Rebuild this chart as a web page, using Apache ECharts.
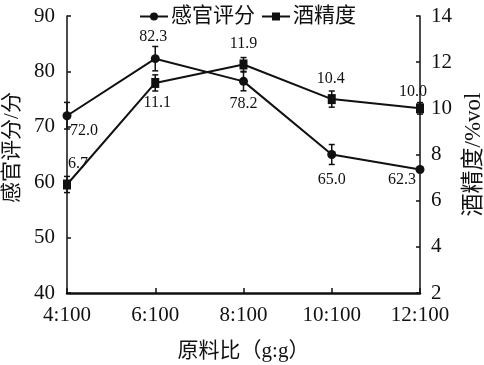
<!DOCTYPE html>
<html>
<head>
<meta charset="utf-8">
<script src="https://cdn.jsdelivr.net/npm/echarts@6/dist/echarts.min.js"></script>
<style>html,body{margin:0;padding:0;background:#fff}#c{width:484px;height:365px}</style>
</head>
<body>
<div id="c"></div>
<script>
const categories = ['4:100', '6:100', '8:100', '10:100', '12:100'];
const sensory = [72.0, 82.3, 78.2, 65.0, 62.3];
const sensoryErr = [2.4, 2.2, 1.7, 1.8, 0.5];
const alcohol = [6.7, 11.1, 11.9, 10.4, 10.0];
const alcoholErr = [0.35, 0.35, 0.3, 0.35, 0.25];
const leftTicks = { min: 40, max: 90, interval: 10 };
const rightTicks = { min: 2, max: 14, interval: 2 };

// label placement (offsets in px from point centre)
const sensoryLabelOffsets = [[17, 15], [-2, -22], [0, 22], [0, 25], [-18, 10]];
const alcoholLabelOffsets = [[11, -21], [2, 20], [0, -21], [-1, -20], [-7, -17]];

const FONT = '"Liberation Serif", "Times New Roman", "Noto Sans CJK SC", serif';
const INK = '#111';

function withLabels(values, offsets) {
  return values.map((v, i) => ({
    value: v,
    label: { position: 'inside', offset: offsets[i] }
  }));
}

function errorSeries(values, errs, yAxisIndex) {
  return {
    type: 'custom',
    yAxisIndex: yAxisIndex,
    silent: true,
    z: 1,
    data: values.map((v, i) => [i, v, errs[i]]),
    renderItem: function (params, api) {
      const x = api.value(0), v = api.value(1), e = api.value(2);
      const hi = api.coord([x, v + e]);
      const lo = api.coord([x, v - e]);
      const w = 3;
      const st = { stroke: INK, lineWidth: 1.5 };
      return {
        type: 'group',
        children: [
          { type: 'line', shape: { x1: hi[0], y1: hi[1], x2: lo[0], y2: lo[1] }, style: st },
          { type: 'line', shape: { x1: hi[0] - w, y1: hi[1], x2: hi[0] + w, y2: hi[1] }, style: st },
          { type: 'line', shape: { x1: lo[0] - w, y1: lo[1], x2: lo[0] + w, y2: lo[1] }, style: st }
        ]
      };
    }
  };
}

const chart = echarts.init(document.getElementById('c'), null, { renderer: 'canvas' });
chart.setOption({
  animation: false,
  backgroundColor: '#fff',
  textStyle: { fontFamily: FONT, color: INK },
  grid: { left: 67, right: 64, top: 16, bottom: 72, containLabel: false, outerBoundsMode: 'none' },
  legend: {
    left: 134, top: 1,
    itemWidth: 28, itemHeight: 10, itemGap: 6,
    textStyle: { fontFamily: FONT, fontSize: 21, color: INK, padding: [0, 0, 0, -2] },
    data: ['感官评分', '酒精度']
  },
  xAxis: {
    type: 'category',
    data: categories,
    boundaryGap: false,
    name: '原料比（g:g）',
    nameLocation: 'middle',
    nameGap: 48,
    nameTextStyle: { fontFamily: FONT, fontSize: 21, color: INK },
    axisLine: { lineStyle: { color: INK, width: 2.5 } },
    axisTick: { inside: true, length: 5, alignWithLabel: true, lineStyle: { color: INK, width: 1.5 } },
    axisLabel: { fontFamily: FONT, fontSize: 21, color: INK, margin: 12 },
    splitLine: { show: false }
  },
  yAxis: [
    {
      type: 'value',
      min: leftTicks.min, max: leftTicks.max, interval: leftTicks.interval,
      name: '感官评分/分',
      nameLocation: 'middle',
      nameRotate: 90,
      nameGap: 40,
      nameTextStyle: { fontFamily: FONT, fontSize: 21, color: INK, padding: [0, 0, 0, 14] },
      axisLine: { show: true, lineStyle: { color: INK, width: 1.5 } },
      axisTick: { show: true, inside: true, length: 4, lineStyle: { color: INK, width: 1.5 } },
      axisLabel: { fontFamily: FONT, fontSize: 21, color: INK, margin: 12 },
      splitLine: { show: false }
    },
    {
      type: 'value',
      position: 'right',
      min: rightTicks.min, max: rightTicks.max, interval: rightTicks.interval,
      name: '酒精度/%vol',
      nameLocation: 'middle',
      nameRotate: 90,
      nameGap: 42,
      nameTextStyle: { fontFamily: FONT, fontSize: 23, color: INK },
      axisLine: { show: true, lineStyle: { color: INK, width: 1.5 } },
      axisTick: { show: true, inside: true, length: 4, lineStyle: { color: INK, width: 1.5 } },
      axisLabel: { fontFamily: FONT, fontSize: 21, color: INK, margin: 11 },
      splitLine: { show: false }
    }
  ],
  series: [
    {
      name: '感官评分',
      type: 'line',
      yAxisIndex: 0,
      data: withLabels(sensory, sensoryLabelOffsets),
      symbol: 'circle',
      symbolSize: 9,
      z: 3,
      lineStyle: { color: INK, width: 2 },
      itemStyle: { color: INK },
      label: {
        show: true,
        formatter: p => p.value.toFixed(1),
        fontFamily: FONT, fontSize: 16, color: INK
      }
    },
    {
      name: '酒精度',
      type: 'line',
      yAxisIndex: 1,
      data: withLabels(alcohol, alcoholLabelOffsets),
      symbol: 'rect',
      symbolSize: [8, 10],
      z: 3,
      lineStyle: { color: INK, width: 2 },
      itemStyle: { color: INK },
      label: {
        show: true,
        formatter: p => p.value.toFixed(1),
        fontFamily: FONT, fontSize: 16, color: INK
      }
    },
    errorSeries(sensory, sensoryErr, 0),
    errorSeries(alcohol, alcoholErr, 1)
  ]
});
</script>
</body>
</html>
